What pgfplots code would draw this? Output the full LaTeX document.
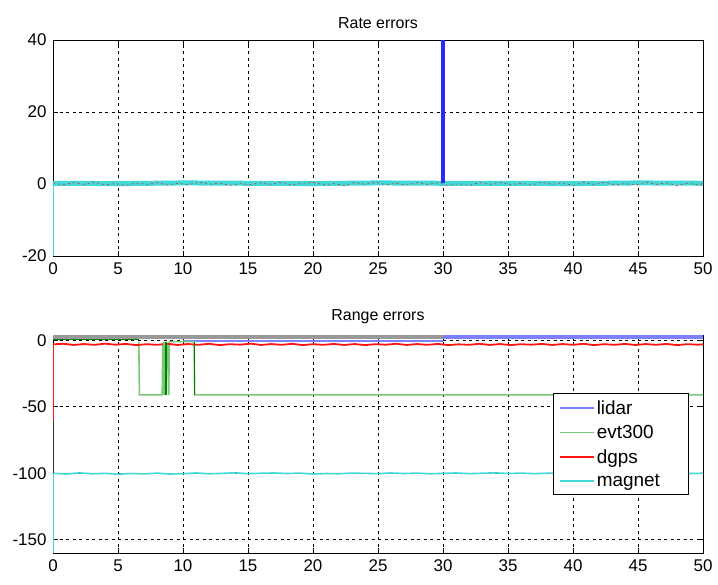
\documentclass[border=0pt]{standalone}
\usepackage{pgfplots}
\pgfplotsset{compat=1.18}
\usepackage{fontspec}
\setmainfont{Liberation Sans}
\definecolor{lidarc}{RGB}{40,40,255}
\definecolor{lidarl}{RGB}{128,128,255}
\definecolor{evtl}{RGB}{120,200,120}
\definecolor{evtd}{RGB}{0,128,0}
\definecolor{dgpsc}{RGB}{255,20,20}
\definecolor{magc}{RGB}{64,216,216}
\pgfplotsset{
  matlab/.style={
    scale only axis, width=650bp, anchor=north west,
    xmin=0, xmax=50, xtick={0,5,...,50},
    grid=major,
    grid style={black, line width=0.6bp, dash pattern=on 3bp off 3.5bp},
    tick align=inside, major tick length=5bp,
    tick style={black, line width=0.8bp},
    axis line style={black, line width=0.9bp},
    tick label style={font=\fontsize{17}{20}\selectfont},
    /pgf/number format/assume math mode=true,
    xticklabel style={yshift=-3bp},
    yticklabel style={xshift=-3bp},
    title style={font=\fontsize{16}{19}\selectfont, yshift=2bp},
    clip=true,
  }
}
\begin{document}
\begin{tikzpicture}
\useasboundingbox (0,0) rectangle (718bp,-585bp);
% ---------------- Top: Rate errors
\begin{axis}[matlab, at={(53bp,-40bp)}, height=216bp,
  ymin=-20, ymax=40, ytick={-20,0,20,40},
  title={Rate errors}]
\addplot[magc, line width=5bp, forget plot] coordinates {
(0,0.2) (5,0.1) (10,0.3) (15,0.2) (20,0.1) (25,0.3) (30,0.2) (35,0.2) (40,0.1) (45,0.3) (50,0.2)};
\addplot[magc, line width=1.5bp, forget plot] coordinates {(0,-20) (0,0.2)};
\addplot[dgpsc, line width=0.5bp, dash pattern=on 2bp off 3bp, forget plot] coordinates {
(0,0.3) (0.8,-0.2) (1.6,0.4) (2.4,-0.1) (3.2,0.5) (4.0,-0.2) (4.8,0.1) (5.6,-0.4) (6.4,0.3) (7.2,-0.1)
(8.0,0.4) (8.8,-0.3) (9.6,0.2) (10.4,-0.2) (11.2,0.5) (12.0,-0.1) (12.8,0.3) (13.6,-0.4) (14.4,0.1) (15.2,-0.2)
(16.0,0.4) (16.8,-0.1) (17.6,0.5) (18.4,-0.3) (19.2,0.2) (20.0,0.5) (20.8,-0.2) (21.6,0.1) (22.4,-0.4) (23.2,0.4)
(24.0,-0.1) (24.8,0.5) (25.6,-0.2) (26.4,0.2) (27.2,-0.3) (28.0,0.4) (28.8,-0.1) (29.6,0.3) (30.4,-0.4) (31.2,0.1)
(32.0,-0.4) (32.8,0.4) (33.6,-0.1) (34.4,0.5) (35.2,-0.2) (36.0,0.2) (36.8,-0.3) (37.6,0.5) (38.4,-0.1) (39.2,0.3)
(40.0,-0.4) (40.8,0.4) (41.6,-0.1) (42.4,0.5) (43.2,-0.2) (44.0,0.1) (44.8,-0.3) (45.6,0.5) (46.4,-0.1) (47.2,0.3)
(48.0,-0.4) (48.8,0.2) (49.6,-0.2) (50,0.1)};
\addplot[lidarc, line width=4bp, forget plot] coordinates {(30,0.2) (30,45)};
\end{axis}
% ---------------- Bottom: Range errors
\begin{axis}[matlab, at={(53bp,-335bp)}, height=218bp,
  ymin=-160, ymax=4, ytick={-150,-100,-50,0},
  title={Range errors},
  legend style={at={(0.769,0.734)}, anchor=north west, draw=black, line width=0.9bp,
    font=\fontsize{19}{21}\selectfont, inner xsep=6bp, inner ysep=5bp,
    row sep=5.5bp},
  legend cell align=left,
  legend image code/.code={\draw[line width=1.5bp] (0bp,0bp) -- (34bp,0bp);}]
% ---- legend-carrying series (first four plots)
\addplot[lidarl, line width=2bp] coordinates {(10,-0.8) (30,-0.8)};
\addplot[evtl, line width=1.6bp] coordinates {
(6.6,-1) (6.65,-41) (8.4,-41) (8.45,-2) (8.6,-41) (8.8,-2) (8.9,-41) (8.95,-1) (10.85,-1) (10.9,-41) (50,-41)};
\addplot[dgpsc, line width=1.8bp] coordinates {
(0,-61) (0,-3) (0.8,-2.6) (1.6,-3.5) (2.4,-2.8) (3.2,-3.4) (4.0,-2.5) (4.8,-3.3) (5.6,-2.7) (6.4,-3.6) (7.2,-2.9)
(8.0,-3.4) (8.8,-2.6) (9.6,-3.5) (10.4,-2.8) (11.2,-3.4) (12.0,-2.6) (12.8,-3.6) (13.6,-2.9) (14.4,-3.3) (15.2,-2.5)
(16.0,-3.5) (16.8,-2.8) (17.6,-3.4) (18.4,-2.6) (19.2,-3.6) (20.0,-2.9) (20.8,-3.4) (21.6,-2.7) (22.4,-3.5) (23.2,-2.8)
(24.0,-3.6) (24.8,-2.9) (25.6,-3.3) (26.4,-2.6) (27.2,-3.5) (28.0,-2.8) (28.8,-3.4) (29.6,-2.7) (30.4,-3.6) (31.2,-3.0)
(32.0,-3.4) (32.8,-2.6) (33.6,-3.5) (34.4,-2.8) (35.2,-3.6) (36.0,-2.9) (36.8,-3.3) (37.6,-2.7) (38.4,-3.5) (39.2,-2.8)
(40.0,-3.4) (40.8,-2.6) (41.6,-3.6) (42.4,-2.9) (43.2,-3.4) (44.0,-2.7) (44.8,-3.5) (45.6,-2.8) (46.4,-3.4) (47.2,-2.7)
(48.0,-3.6) (48.8,-2.9) (49.6,-3.3) (50,-3.0)};
\addplot[magc, line width=1.6bp] coordinates {
(0,-160) (0,-100) (1,-100.6) (2,-99.7) (3,-100.4) (4,-100.1) (5,-100.7) (6,-100.2) (7,-100.5) (8,-99.9) (9,-100.6)
(10,-100.3) (11,-99.8) (12,-100.4) (13,-100.1) (14,-99.7) (15,-100.3) (16,-100.0) (17,-99.8) (18,-100.2) (19,-99.9)
(20,-100.6) (21,-100.2) (22,-100.4) (23,-99.9) (24,-100.1) (25,-100.3) (26,-99.8) (27,-100.2) (28,-99.9) (29,-100.4)
(30,-100.1) (31,-99.8) (32,-100.3) (33,-100.0) (34,-99.7) (35,-100.2) (36,-99.9) (37,-100.3) (38,-100.0) (39,-99.8)
(40,-100.2) (41,-99.9) (42,-100.3) (43,-100.0) (44,-99.8) (45,-100.2) (46,-99.9) (47,-100.1) (48,-99.8) (49,-100.2) (50,-100.0)};
\legend{\makebox[84bp][l]{lidar},\makebox[84bp][l]{evt300},\makebox[84bp][l]{dgps},\makebox[84bp][l]{magnet}}
% ---- extra pieces
\addplot[lidarl, line width=4bp, forget plot] coordinates {(30,2.8) (50,2.8)};
\addplot[gray!80, line width=5bp, forget plot] coordinates {(0,2.8) (30,2.8)};
\addplot[evtd, line width=1bp, forget plot] coordinates {(0,0.5) (6.6,0.5)};
\addplot[evtl, line width=4bp, forget plot] coordinates {(8.65,-41) (8.65,-1)};
\addplot[evtd, line width=1.3bp, forget plot] coordinates {(8.7,-41) (8.7,-1)};
\addplot[evtd, line width=1.3bp, forget plot] coordinates {(10.9,-41) (10.9,-1)};
\addplot[black!80, line width=1.2bp, forget plot] coordinates {(0.05,-61) (0.05,-100)};
\end{axis}
\end{tikzpicture}
\end{document}
